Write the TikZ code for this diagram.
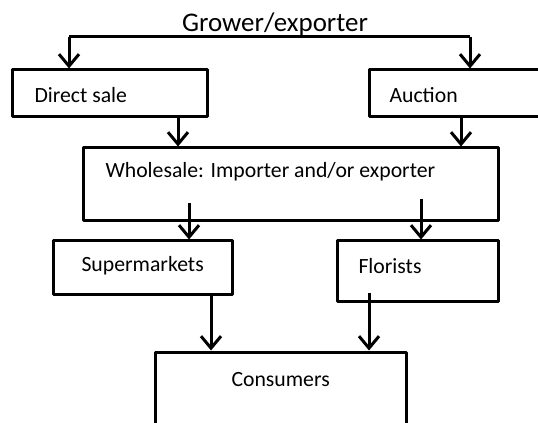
\documentclass[tikz,border=0pt]{standalone}
\usepackage{fontspec}
\setmainfont{Carlito}
\usetikzlibrary{arrows.meta,fit}

\tikzset{every picture/.style={line width=2.25pt}}
\tikzset{
  box/.style={draw, inner sep=0pt, line join=round},
  txt/.style={anchor=west, inner sep=0.75pt, font=\fontsize{16.3}{19}\selectfont},
  arr/.style={-{Straight Barb[length=9pt,width=15pt,line width=2.25pt]}}
}

\begin{document}
\begin{tikzpicture}[x=0.75pt,y=0.75pt,yscale=-1,xscale=1]
		\useasboundingbox (0,0) rectangle (538,423);
		\clip (0,0) rectangle (538,423);

		% Text Node
		\node (grower) at (275,24) [inner sep=0.75pt, font=\fontsize{20.2}{24}\selectfont] {Grower/exporter};

		%Shape: Rectangle [direct]
		\node (direct) [box, fit={(12,70) (207,117)}] {};
		%Shape: Rectangle [auction]
		\node (auction) [box, fit={(369,70) (560,117)}] {};
		%Shape: Rectangle [wholesale]
		\node (whole) [box, fit={(83,148) (498,221)}] {};
		%Shape: Rectangle [supermarkets]
		\node (super) [box, fit={(53,241) (232,295)}] {};
		%Shape: Rectangle [florists]
		\node (florist) [box, fit={(337,241) (498,302)}] {};
		%Shape: Rectangle [consumers]
		\node (consum) [box, fit={(155,352) (406,460)}] {};

		% Text Node
		\node (directtxt) at (32,95) [txt] {Direct sale};
		% Text Node
		\node (auctiontxt) at (387,95) [txt] {Auction};
		% Text Node
		\node (wholetxt) at (103,172) [txt] {Wholesale: Importer and/or exporter};
		% Text Node
		\node (supertxt) at (79,266) [txt] {Supermarkets};
		% Text Node
		\node (floristtxt) at (356,266) [txt] {Florists};
		% Text Node
		\node (consumtxt) at (229,380) [txt] {Consumers};

		%Straight Lines [split]
		\coordinate (gl) at (69,37);
		\coordinate (gr) at (470,37);
		\draw (gl) -- (gr);
		\draw [arr] (gl) -- (gl |- direct.north);
		\draw [arr] (gr) -- (gr |- auction.north);

		%Straight Lines [to wholesale]
		\coordinate (d1) at (178,115);
		\coordinate (a1) at (461,115);
		\draw [arr] (d1) -- (d1 |- whole.north);
		\draw [arr] (a1) -- (a1 |- whole.north);

		%Straight Lines [to shops]
		\coordinate (w1) at (189,203);
		\coordinate (w2) at (421,199);
		\draw [arr] (w1) -- (w1 |- super.north);
		\draw [arr] (w2) -- (w2 |- florist.north);

		%Straight Lines [to consumers]
		\coordinate (s1) at (211,295);
		\coordinate (f1) at (369,293);
		\draw [arr] (s1) -- (s1 |- consum.north);
		\draw [arr] (f1) -- (f1 |- consum.north);

		\end{tikzpicture}
\end{document}
